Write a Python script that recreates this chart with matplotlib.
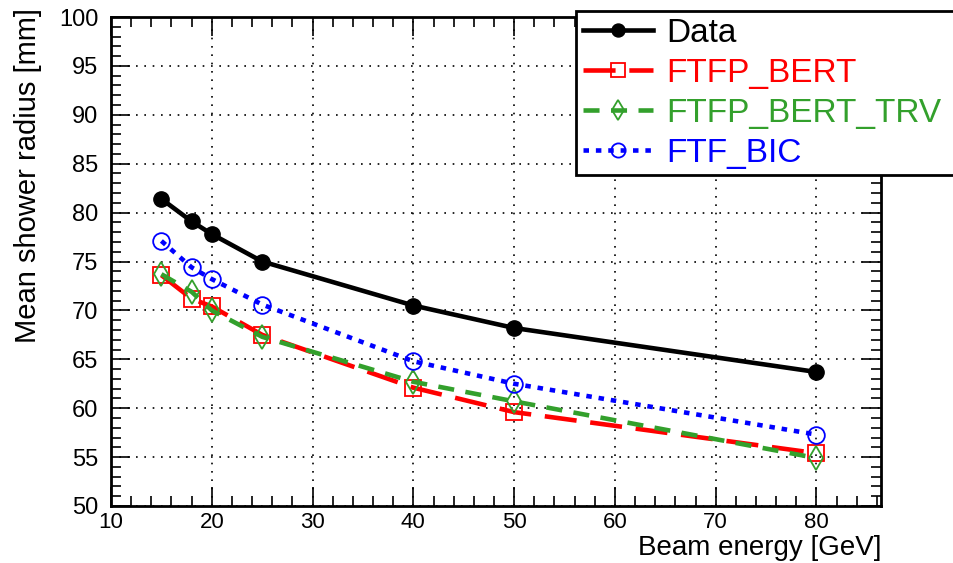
import matplotlib
matplotlib.use("Agg")
import matplotlib.pyplot as plt
from matplotlib.ticker import MultipleLocator

energy = [15, 18, 20, 25, 40, 50, 80]
data = [81.4, 79.1, 77.8, 75.0, 70.5, 68.2, 63.7]
ftfp_bert = [73.6, 71.2, 70.4, 67.5, 62.1, 59.6, 55.4]
ftfp_bert_trv = [73.7, 71.9, 70.0, 67.3, 62.7, 60.7, 54.9]
ftf_bic = [77.1, 74.4, 73.2, 70.6, 64.8, 62.5, 57.3]

xticks = [10, 20, 30, 40, 50, 60, 70, 80]
yticks = [50, 55, 60, 65, 70, 75, 80, 85, 90, 95, 100]

plt.rcParams['font.family'] = ['Liberation Sans', 'DejaVu Sans']

W, H = 954, 563
fig = plt.figure(figsize=(W / 100, H / 100), dpi=100)
ax = fig.add_axes([111 / W, 1 - 506 / H, (881 - 111) / W, (506 - 17) / H])

green = '#33a02c'
ax.plot(energy, data, color='black', lw=3.3, ls='-', marker='o', ms=11,
        mfc='black', mec='black', label='Data', zorder=5)
ax.plot(energy, ftfp_bert, color='red', lw=3.3, ls=(0, (7, 3)), marker='s', ms=12,
        mfc='none', mec='red', mew=1.3, label='FTFP_BERT', zorder=3)
ax.plot(energy, ftfp_bert_trv, color=green, lw=3.3, ls=(0, (3.5, 2.5)), marker='d', ms=12,
        mfc='none', mec=green, mew=1.3, label='FTFP_BERT_TRV', zorder=4)
ax.plot(energy, ftf_bic, color='blue', lw=3.3, ls=(0, (1.2, 1.5)), marker='o', ms=12,
        mfc='none', mec='blue', mew=1.3, label='FTF_BIC', zorder=4)

ax.set_xlim(10, 86.4)
ax.set_ylim(50, 100)
ax.set_xticks(xticks)
ax.set_yticks(yticks)
ax.xaxis.set_minor_locator(MultipleLocator(2))
ax.yaxis.set_minor_locator(MultipleLocator(1))
ax.tick_params(which='both', direction='in', top=True, right=True, width=1.2, labelsize=17)
ax.tick_params(which='major', length=14)
ax.tick_params(which='minor', length=7)
ax.tick_params(axis='x', pad=4, labelsize=16)
ax.tick_params(axis='y', pad=9)
ax.grid(True, which='major', color='black', ls=(0, (1, 4)), lw=1.2)
for s in ax.spines.values():
    s.set_linewidth(2)

fig.text(28 / W, 1 - 8 / H, 'Mean shower radius [mm]', rotation=90,
         ha='center', va='top', fontsize=21)
fig.text(881 / W, 1 - 561 / H, 'Beam energy [GeV]', ha='right', va='bottom', fontsize=20)

leg = fig.legend(loc='upper left', bbox_to_anchor=(576 / W, 1 - 11 / H, 390 / W, 0),
                 mode='expand', fontsize=24,
                 frameon=True, fancybox=False, framealpha=1, edgecolor='black',
                 handlelength=2.1, handletextpad=0.4, labelspacing=0.27,
                 borderpad=0.2, borderaxespad=0, markerscale=0.85)
leg.get_frame().set_linewidth(2)
for t, c in zip(leg.get_texts(), ['black', 'red', green, 'blue']):
    t.set_color(c)

fig.savefig('out.png', dpi=100)
